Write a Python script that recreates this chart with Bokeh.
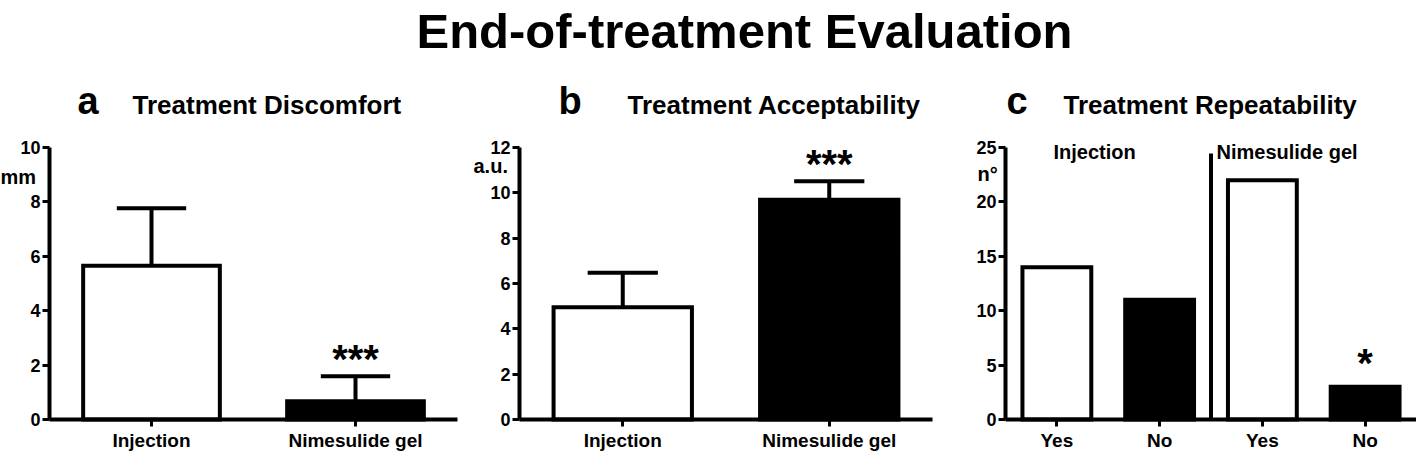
from bokeh.plotting import figure
from bokeh.layouts import column, row
from bokeh.models import Range1d, FixedTicker, Label
from bokeh.core.properties import value
from bokeh.embed import file_html
from bokeh.resources import INLINE

FONT = "Liberation Sans"

# ---------------- data ----------------
title_text = "End-of-treatment Evaluation"

a_letter = "a"
a_title = "Treatment Discomfort"
a_unit = "mm"
a_categories = ["Injection", "Nimesulide gel"]
a_means = [5.65, 0.67]
a_sem = [2.12, 0.92]
a_stars = ["", "***"]
a_yticks = [0, 2, 4, 6, 8, 10]

b_letter = "b"
b_title = "Treatment Acceptability"
b_unit = "a.u."
b_categories = ["Injection", "Nimesulide gel"]
b_means = [4.95, 9.70]
b_sem = [1.52, 0.81]
b_stars = ["", "***"]
b_yticks = [0, 2, 4, 6, 8, 10, 12]

c_letter = "c"
c_title = "Treatment Repeatability"
c_unit = "n°"
c_groups = ["Injection", "Nimesulide gel"]
c_categories = ["Yes", "No", "Yes", "No"]
c_counts = [14, 11, 22, 3]
c_stars = ["", "", "", "*"]
c_yticks = [0, 5, 10, 15, 20, 25]

# ---------------- layout constants (page pixels) ----------------
PAGE_H = 452
TITLE_H = 70
PANEL_H = PAGE_H - TITLE_H
AXIS_Y = 419          # page y of the value 0
AXIS_TOP = 147        # page y of the top tick
BAR_W = 0.67
CAP_HALF = 0.17


def txt(p, x, y, text, size):
    p.add_layout(Label(x=x, y=y, text=text, text_align="left",
                       text_baseline="middle", text_font=FONT,
                       text_font_size=f"{size}px", text_font_style="bold",
                       text_color="black"))


class Panel:
    def __init__(self, left_px, width, axis_px, unit_px, ncat, yend, yticks, xlabels):
        self.left_px, self.axis_px, self.u = left_px, axis_px, unit_px
        self.ppy = (AXIS_Y - AXIS_TOP) / yend
        x0 = (left_px - axis_px) / unit_px
        x1 = (left_px + width - axis_px) / unit_px
        ytop = (AXIS_Y - TITLE_H) / self.ppy
        ybot = -(PAGE_H - AXIS_Y) / self.ppy
        p = figure(width=width, height=PANEL_H, x_range=Range1d(x0, x1),
                   y_range=Range1d(ybot, ytop), output_backend="svg",
                   toolbar_location=None, min_border=0)
        p.xgrid.visible = False
        p.ygrid.visible = False
        p.outline_line_color = None
        xt = [i + 0.5 for i in range(ncat)]
        p.xaxis.ticker = FixedTicker(ticks=xt)
        p.xaxis.major_label_overrides = {t: l for t, l in zip(xt, xlabels)}
        p.xaxis.bounds = (0, ncat)
        p.xaxis.fixed_location = 0
        p.yaxis.ticker = FixedTicker(ticks=yticks)
        p.yaxis.bounds = (0, yend)
        p.yaxis.fixed_location = 0
        for ax in p.axis:
            ax.axis_line_width = 4
            ax.axis_line_color = "black"
            ax.major_tick_line_width = 3
            ax.major_tick_line_color = "black"
            ax.major_tick_in = 0
            ax.major_tick_out = 7
            ax.minor_tick_line_color = None
            ax.major_label_text_font = FONT
            ax.major_label_text_font_style = "bold"
            ax.major_label_text_color = "black"
        p.yaxis.major_label_text_font_size = "18px"
        p.yaxis.major_label_standoff = 2
        p.xaxis.major_label_text_font_size = "19px"
        p.xaxis.major_label_standoff = 3
        self.p = p
        self.xs = xt

    # page pixel -> data coordinate (annotations only)
    def dx(self, X):
        return (X - self.axis_px) / self.u

    def dy(self, Y):
        return (AXIS_Y - Y) / self.ppy

    def label(self, X, Ybase, text, size):
        # anchor at middle of the em box: ~0.35 em above the baseline
        txt(self.p, self.dx(X), self.dy(Ybase - 0.35 * size), text, size)

    def bars(self, values, fills, errors=None, stars=None, star_gap=17):
        p = self.p
        p.vbar(x=self.xs, top=values, bottom=0, width=BAR_W, fill_color=fills,
               line_color="black", line_width=4, line_join="miter")
        tops = list(values)
        if errors is not None:
            tops = [v + e for v, e in zip(values, errors)]
            p.segment(x0=self.xs, y0=values, x1=self.xs, y1=tops,
                      line_color="black", line_width=4)
            p.segment(x0=[x - CAP_HALF for x in self.xs], y0=tops,
                      x1=[x + CAP_HALF for x in self.xs], y1=tops,
                      line_color="black", line_width=4, line_cap="butt")
        if stars is not None:
            sx = [x for x, s in zip(self.xs, stars) if s]
            sy = [t + star_gap / self.ppy for t, s in zip(tops, stars) if s]
            st = [s for s in stars if s]
            p.text(x=sx, y=sy, text=st, text_align="center",
                   text_baseline="middle", text_font=value(FONT),
                   text_font_size="40px", text_font_style="bold",
                   text_color="black")


# ---- panel a ----
pa = Panel(0, 465, 49, 204, len(a_categories), 10, a_yticks, a_categories)
pa.label(77, 114, a_letter, 38)
pa.label(132, 114, a_title, 26)
pa.label(0, 183, a_unit, 20)
pa.bars(a_means, ["white", "black"], a_sem, a_stars)

# ---- panel b ----
pb = Panel(465, 487, 519, 206.5, len(b_categories), 12, b_yticks, b_categories)
pb.label(558, 114, b_letter, 38)
pb.label(627, 114, b_title, 26)
pb.label(473, 172, b_unit, 20)
pb.bars(b_means, ["white", "black"], b_sem, b_stars)

# ---- panel c ----
pc = Panel(952, 464, 1005, 102.75, len(c_categories), 25, c_yticks, c_categories)
pc.label(1006, 114, c_letter, 38)
pc.label(1063, 114, c_title, 26)
pc.label(977, 180, c_unit, 20)
c_fills = ["white" if c == "Yes" else "black" for c in c_categories]
pc.bars(c_counts, c_fills, None, c_stars, star_gap=24)
# divider between the two treatment groups
n_per_group = len(c_categories) // len(c_groups)
pc.p.segment(x0=[n_per_group], y0=[0], x1=[n_per_group], y1=[pc.dy(153)],
             line_color="black", line_width=4, line_cap="butt")
pc.label(1053, 158, c_groups[0], 20)
pc.label(1216, 158, c_groups[1], 20)

# ---- main title ----
t = figure(width=1416, height=TITLE_H, x_range=Range1d(0, 1416),
           y_range=Range1d(TITLE_H, 0), output_backend="svg",
           toolbar_location=None, min_border=0)
t.axis.visible = False
t.grid.visible = False
t.outline_line_color = None
t.add_layout(Label(x=744, y=30, text=title_text, text_align="center",
                   text_baseline="middle", text_font=FONT,
                   text_font_size="49px", text_font_style="bold",
                   text_color="black"))

layout = column(t, row(pa.p, pb.p, pc.p, spacing=0), spacing=0)
open("out.html", "w").write(file_html(layout, INLINE))
